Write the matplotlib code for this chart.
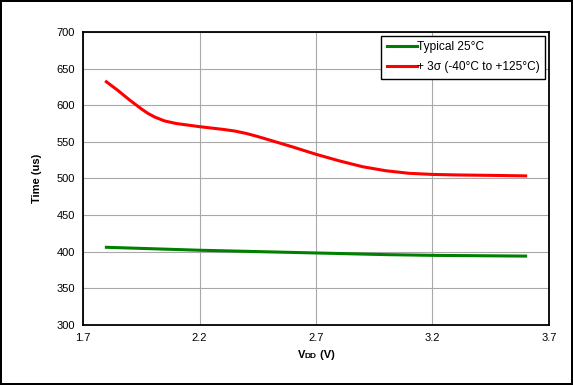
# Startup time vs supply voltage.

import matplotlib.pyplot as plt
from matplotlib.offsetbox import TextArea, HPacker, AnchoredOffsetbox

plt.rcParams['font.family'] = ['Liberation Sans', 'DejaVu Sans']

# Data.
vdd_typ = [1.8, 2.0, 2.2, 2.4, 2.6, 2.8, 3.0, 3.2, 3.4, 3.6]
time_typ = [406, 404, 402, 400.5, 399, 397.5, 396, 395, 394.5, 394]

vdd_max = [1.8, 1.85, 1.9, 1.95, 1.98, 2.01, 2.05, 2.1, 2.2, 2.3, 2.35, 2.4, 2.45,
           2.5, 2.6, 2.7, 2.8, 2.9, 3.0, 3.1, 3.2, 3.3, 3.45, 3.6]
time_max = [632, 620, 607, 595, 588.5, 583.5, 578.5, 575, 570.7, 567, 564.8, 561.5, 557.2,
            552.5, 543, 533, 524, 516, 510.5, 507, 505.5, 504.8, 504.2, 503.5]

x_ticks = [1.7, 2.2, 2.7, 3.2, 3.7]
y_ticks = [300, 350, 400, 450, 500, 550, 600, 650, 700]

fig = plt.figure(figsize=(5.73, 3.85), dpi=100)
fig.patch.set_edgecolor('black')
fig.patch.set_linewidth(1.5)

ax = fig.add_axes([0.145, 0.156, 0.813, 0.761])

ax.plot(vdd_typ, time_typ, color='#008000', linewidth=2.2, label='Typical 25°C',
        solid_joinstyle='round')
ax.plot(vdd_max, time_max, color='#ff0000', linewidth=2.2, label='+ 3σ (-40°C to +125°C)',
        solid_joinstyle='round')

ax.set_xlim(1.7, 3.7)
ax.set_ylim(300, 700)
ax.set_xticks(x_ticks)
ax.set_yticks(y_ticks)
ax.set_xticklabels([str(t) for t in x_ticks])
ax.tick_params(length=0, labelsize=8, pad=6)

ax.grid(True, color='#a8a8a8', linewidth=0.8)
ax.set_axisbelow(True)
for s in ax.spines.values():
    s.set_linewidth(1.3)

# X label with small-caps "DD"
parts = [TextArea('V', textprops=dict(fontsize=8, fontweight='bold')),
         TextArea('DD', textprops=dict(fontsize=6, fontweight='bold')),
         TextArea(' (V)', textprops=dict(fontsize=8, fontweight='bold'))]
box = HPacker(children=parts, align='baseline', pad=0, sep=0)
lab = AnchoredOffsetbox(loc='upper center', child=box, frameon=False, pad=0,
                        bbox_to_anchor=(0.5, -0.085), bbox_transform=ax.transAxes,
                        borderpad=0)
ax.add_artist(lab)

ax.set_ylabel('Time (us)', fontsize=8, fontweight='bold', labelpad=10)

leg = ax.legend(loc='upper right', fontsize=8.6, fancybox=False, framealpha=1,
                edgecolor='black', handlelength=2.5, handletextpad=0.05,
                borderaxespad=0.3, borderpad=0.45, labelspacing=0.7)
leg.get_frame().set_linewidth(1.0)

plt.savefig('out.png', dpi=100)
